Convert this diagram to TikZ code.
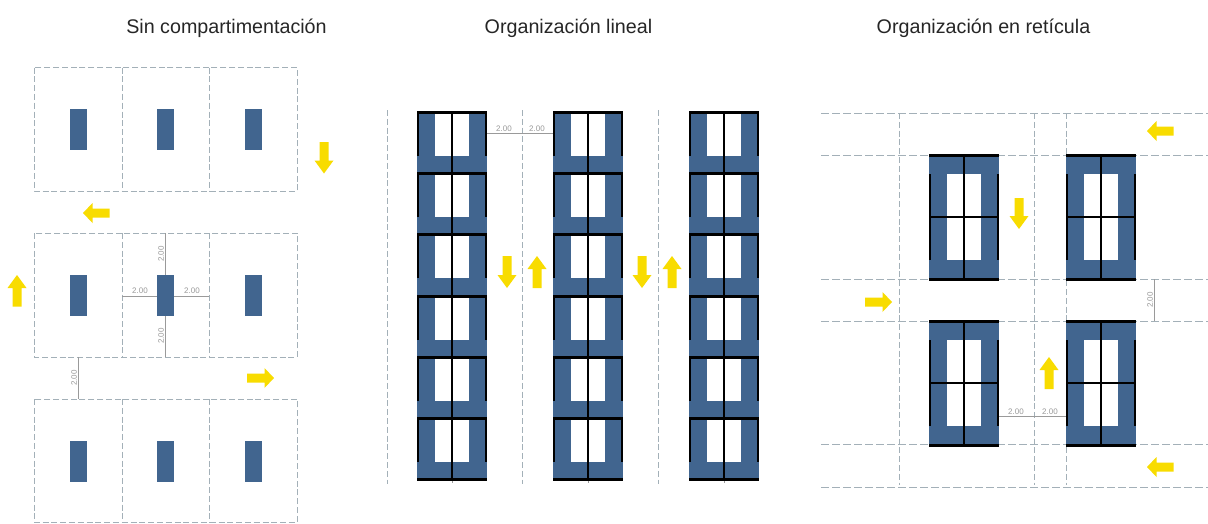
\documentclass[tikz,border=0pt]{standalone}
\usepackage{fontspec}
\setmainfont{Liberation Sans}
\definecolor{pillar}{HTML}{41658F}
\definecolor{arrowy}{HTML}{F8DC00}
\definecolor{dashc}{HTML}{A3B0B8}
\definecolor{dimc}{HTML}{9A9A9A}
\tikzset{
  gridline/.style={draw=dashc,line width=1pt,dash pattern=on 6pt off 2.8pt},
  griddash/.style={draw=dashc,line width=1pt,dash pattern=on 8pt off 3pt},
  pillarbox/.style={fill=pillar,draw=none},
  wall/.style={draw=black,line width=2.4pt},
  wallthick/.style={draw=black,line width=3pt},
  dimline/.style={draw=dimc,line width=0.8pt},
  dimtext/.style={text=dimc,font=\fontsize{8}{8}\selectfont,inner sep=0pt},
  title/.style={text=black!85,font=\fontsize{19.7}{22}\selectfont,inner sep=0pt,anchor=center},
  yarrow/.style={fill=arrowy,draw=none}
}
\newcommand{\harrow}[3]{% x tail, x tip, y
  \pgfmathsetmacro{\hneck}{#2-9.5*sign(#2-#1)}
  \fill[yarrow] (#1,#3-4.5) -- (\hneck,#3-4.5) -- (\hneck,#3-10) -- (#2,#3) -- (\hneck,#3+10) -- (\hneck,#3+4.5) -- (#1,#3+4.5) -- cycle;}
\newcommand{\varrow}[3]{% x, y tail, y tip
  \pgfmathsetmacro{\vneck}{#3-13*sign(#3-#2)}
  \fill[yarrow] (#1-4.5,#2) -- (#1-4.5,\vneck) -- (#1-9.5,\vneck) -- (#1,#3) -- (#1+9.5,\vneck) -- (#1+4.5,\vneck) -- (#1+4.5,#2) -- cycle;}
\begin{document}
\begin{tikzpicture}[x=1pt,y=-1pt]
\useasboundingbox (0,0) rectangle (1208,523);
\fill[white] (0,0) rectangle (1208,523);
% titles
\node[title] (t1) at (226.5,28) {Sin compartimentación};
\node[title] (t2) at (568.5,28) {Organización lineal};
\node[title] (t3) at (983.5,28) {Organización en retícula};
% panel 1
\foreach \ya/\yb/\yp in {67.5/191/109,233/357/275,399/522.5/441}{
  \draw[gridline] (34,\ya) rectangle (297,\yb);
  \draw[gridline] (122,\ya) -- (122,\yb);
  \draw[gridline] (209,\ya) -- (209,\yb);
  \foreach \xc in {78,165.5,253}
    \fill[pillarbox] (\xc-8.5,\yp) rectangle (\xc+8.5,\yp+41);
}
\draw[dimline] (165.5,233) -- (165.5,275) (165.5,316) -- (165.5,357);
\draw[dimline] (122,296) -- (157,296) (174,296) -- (209,296);
\draw[dimline] (78,357) -- (78,399);
\node[dimtext] (d1) at (140,291) {2.00};
\node[dimtext] (d2) at (192,291) {2.00};
\node[dimtext,rotate=90] (d3) at (161,254) {2.00};
\node[dimtext,rotate=90] (d4) at (161,336) {2.00};
\node[dimtext,rotate=90] (d5) at (74,378) {2.00};
\varrow{324}{142}{173.5}
\harrow{109.5}{83}{213}
\varrow{17}{306.5}{275}
\harrow{247}{274}{378}
% panel 2
\foreach \x in {387,522,658} \draw[gridline] (\x,110) -- (\x,484);
\foreach \xa in {417,553,689}{
  \draw[dimc,line width=0.5pt] (\xa+35,479) -- (\xa+35,483);
  \fill[pillarbox] (\xa,112) rectangle (\xa+70,479);
  \foreach \yt in {112,173,234,296,357,418}{
    \fill[white] (\xa+18,\yt) rectangle (\xa+52,\yt+44);
    \draw[wall] (\xa+1,\yt) -- (\xa+1,\yt+44);
    \draw[wall] (\xa+69,\yt) -- (\xa+69,\yt+44);
    \draw[wallthick] (\xa,\yt) -- (\xa+70,\yt);
  }
  \draw[wallthick] (\xa,479) -- (\xa+70,479);
  \draw[wall] (\xa+35,112) -- (\xa+35,479);
}
\draw[dimline] (487,133) -- (553,133);
\node[dimtext] (d6) at (504,129) {2.00};
\node[dimtext] (d7) at (537,129) {2.00};
\varrow{507}{256}{288}
\varrow{537}{288}{256}
\varrow{642}{256}{288}
\varrow{672}{288}{256}
% panel 3
\foreach \y in {113,155,279,321,444,487} \draw[griddash] (821,\y) -- (1208,\y);
\foreach \x in {899,1034,1066} \draw[gridline] (\x,113) -- (\x,485);
\foreach \xa in {929,1066}{
  \foreach \yt/\ym in {155/217,321/383}{
    \fill[pillarbox] (\xa,\yt) rectangle (\xa+70,\yt+124);
    \fill[white] (\xa+18,\yt+19) rectangle (\xa+52,\yt+105);
    \draw[wall] (\xa+1,\yt+19) -- (\xa+1,\yt+105);
    \draw[wall] (\xa+69,\yt+19) -- (\xa+69,\yt+105);
    \draw[wallthick] (\xa,\yt) -- (\xa+70,\yt);
    \draw[wallthick] (\xa,\yt+124) -- (\xa+70,\yt+124);
    \draw[wall] (\xa+35,\yt) -- (\xa+35,\yt+124);
    \draw[wall] (\xa,\ym) -- (\xa+70,\ym);
  }
}
\draw[dimline] (1154,279) -- (1154,321);
\draw[dimline] (999,416) -- (1066,416);
\node[dimtext,rotate=90] (d8) at (1150,300) {2.00};
\node[dimtext] (d9) at (1016,412) {2.00};
\node[dimtext] (d10) at (1050,412) {2.00};
\harrow{1173.5}{1147}{131}
\varrow{1019}{198}{229}
\harrow{865}{892}{302}
\varrow{1049}{389}{357}
\harrow{1173.5}{1147}{467}
\end{tikzpicture}
\end{document}
